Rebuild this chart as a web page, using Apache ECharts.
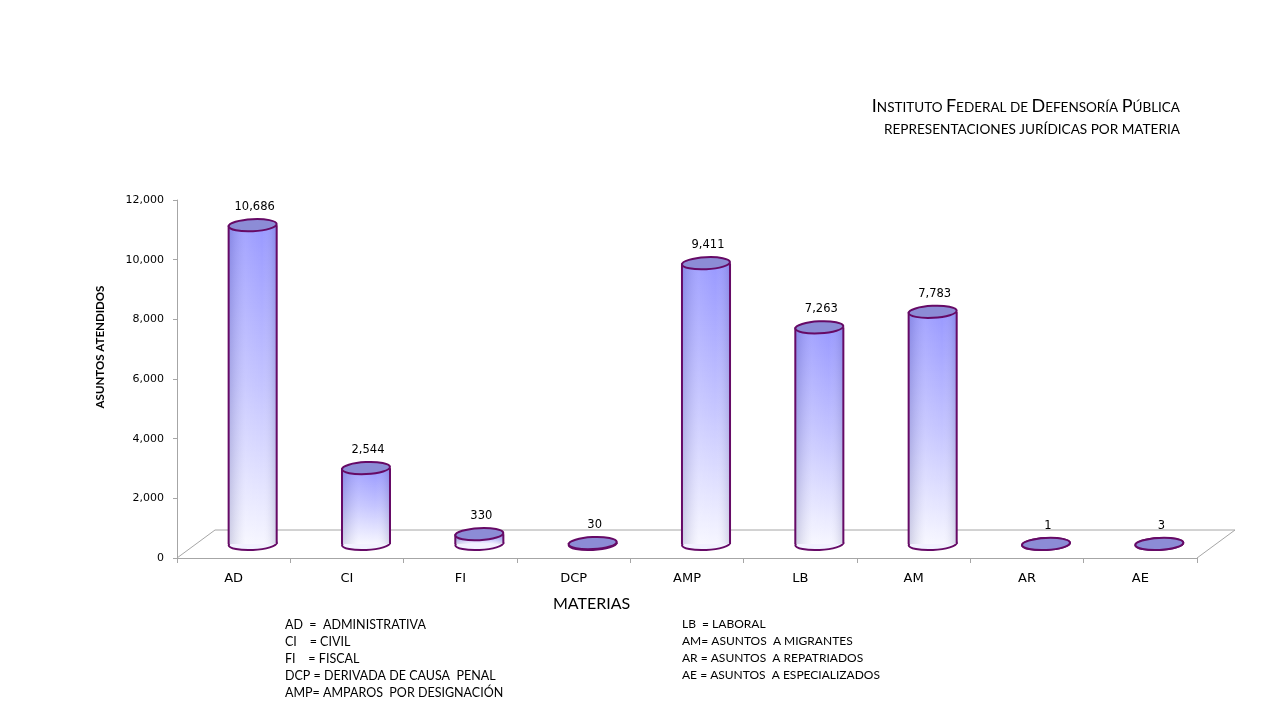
<!DOCTYPE html>
<html lang="es">
<head>
    <meta charset="UTF-8">
    <title>Representaciones jurídicas por materia</title>
    <script src="https://cdn.jsdelivr.net/npm/echarts@6.0.0/dist/echarts.min.js"></script>
    <style>
        html, body {
            margin: 0;
            padding: 0;
            background: #ffffff;
        }

        #chart {
            width: 1280px;
            height: 720px;
        }
    </style>
</head>
<body>
<div id="chart"></div>

<script type="text/javascript">
    // datos de la grafica
    var categories = ['AD', 'CI', 'FI', 'DCP', 'AMP', 'LB', 'AM', 'AR', 'AE'];
    var asuntos = [10686, 2544, 330, 30, 9411, 7263, 7783, 1, 3];
    var yMax = 12000;
    var yStep = 2000;

    // claves de las materias
    var legendLeft = [
        'AD  =  ADMINISTRATIVA',
        'CI    = CIVIL',
        'FI    = FISCAL',
        'DCP = DERIVADA DE CAUSA  PENAL',
        'AMP= AMPAROS  POR DESIGNACIÓN'
    ];
    var legendRight = [
        'LB  = LABORAL',
        'AM= ASUNTOS  A MIGRANTES',
        'AR = ASUNTOS  A REPATRIADOS',
        'AE = ASUNTOS  A ESPECIALIZADOS'
    ];

    // medidas del area de trazado (efecto 3D)
    var GL = 177, GR = 1197, GT = 200, GB = 558;
    var DX = 19, DY = -14;          // desplazamiento a media profundidad
    var PURPLE = '#660a66';

    function fmt(v) {
        return Number(v).toLocaleString('en-US');
    }

    // cilindro dibujado con las escalas del eje
    function renderCylinder(params, api) {
        var base = api.coord([api.value(0), 0]);
        var top = api.coord([api.value(0), api.value(1)]);
        var rx = api.size([1, 0])[0] * 0.212;
        var ry = 6;
        var cx = base[0] + DX;
        var yb = base[1] + DY;
        var yt = top[1] + DY;
        var h = Math.max(yb - yt, 0);
        var tilt = 0.05;

        return {
            type: 'group',
            children: [
                {
                    type: 'ellipse',
                    x: cx, y: yb, rotation: tilt,
                    shape: {cx: 0, cy: 0, rx: rx, ry: ry},
                    style: {fill: '#f2f2ff', stroke: PURPLE, lineWidth: 2}
                },
                {
                    type: 'rect',
                    shape: {x: cx - rx, y: yt, width: rx * 2, height: h},
                    style: {
                        fill: new echarts.graphic.LinearGradient(0, 0, 0, 1, [
                            {offset: 0, color: '#9999ff'},
                            {offset: 0.5, color: '#c4c4ff'},
                            {offset: 1, color: '#f6f6ff'}
                        ])
                    }
                },
                {
                    type: 'rect',
                    shape: {x: cx - rx, y: yt, width: rx * 2, height: h},
                    style: {
                        fill: new echarts.graphic.LinearGradient(0, 0, 1, 0, [
                            {offset: 0, color: 'rgba(60,60,130,0.22)'},
                            {offset: 0.35, color: 'rgba(255,255,255,0.10)'},
                            {offset: 0.7, color: 'rgba(255,255,255,0)'},
                            {offset: 1, color: 'rgba(60,60,130,0.20)'}
                        ])
                    }
                },
                {
                    type: 'line',
                    shape: {x1: cx - rx, y1: yt, x2: cx - rx, y2: yb},
                    style: {stroke: PURPLE, lineWidth: 2}
                },
                {
                    type: 'line',
                    shape: {x1: cx + rx, y1: yt, x2: cx + rx, y2: yb},
                    style: {stroke: PURPLE, lineWidth: 2}
                },
                {
                    type: 'ellipse',
                    x: cx, y: yt, rotation: tilt,
                    shape: {cx: 0, cy: 0, rx: rx, ry: ry},
                    style: {fill: '#8c8cd6', stroke: PURPLE, lineWidth: 2}
                },
                {
                    type: 'text',
                    style: {
                        text: fmt(api.value(1)),
                        x: cx + 2,
                        y: yt - 12,
                        align: 'center',
                        verticalAlign: 'bottom',
                        fill: '#000000',
                        font: '11.5px "DejaVu Sans"'
                    }
                }
            ]
        };
    }

    var chart = echarts.init(document.getElementById('chart'));

    var legendGraphics = [];
    legendLeft.forEach(function (t, i) {
        legendGraphics.push({
            type: 'text', left: 285, top: 618 + i * 17,
            style: {text: t, fill: '#000', font: '12.5px Lato'}
        });
    });
    legendRight.forEach(function (t, i) {
        legendGraphics.push({
            type: 'text', left: 682, top: 618 + i * 17,
            style: {text: t, fill: '#000', font: '12px Lato'}
        });
    });

    var option = {
        animation: false,
        backgroundColor: '#ffffff',
        title: [
            {
                right: 95,
                top: 92,
                text: '{b|I}{s|NSTITUTO }{b|F}{s|EDERAL DE }{b|D}{s|EFENSORÍA }{b|P}{s|ÚBLICA}',
                textStyle: {
                    fontWeight: 'normal',
                    rich: {
                        b: {fontFamily: 'Lato', fontSize: 18, fontWeight: 'normal', color: '#000'},
                        s: {fontFamily: 'Lato', fontSize: 13.5, fontWeight: 'normal', color: '#000', padding: [3, 0, 0, 0]}
                    }
                }
            },
            {
                right: 95,
                top: 118,
                text: 'REPRESENTACIONES JURÍDICAS POR MATERIA',
                textStyle: {fontFamily: 'Lato', fontSize: 13.6, fontWeight: 'normal', color: '#000'}
            }
        ],
        grid: {
            left: GL,
            right: 1280 - GR,
            top: GT,
            bottom: 720 - GB
        },
        xAxis: {
            type: 'category',
            data: categories,
            axisLine: {lineStyle: {color: '#a6a6a6', width: 1}},
            axisTick: {show: true, length: 5, lineStyle: {color: '#a6a6a6'}},
            axisLabel: {
                color: '#000',
                fontFamily: 'DejaVu Sans',
                fontSize: 13,
                margin: 14
            },
            splitLine: {show: false}
        },
        yAxis: {
            type: 'value',
            min: 0,
            max: yMax,
            interval: yStep,
            axisLine: {show: true, lineStyle: {color: '#a6a6a6'}},
            axisTick: {show: true, length: 4, lineStyle: {color: '#a6a6a6'}},
            axisLabel: {
                color: '#000',
                fontFamily: 'DejaVu Sans',
                fontSize: 11,
                margin: 13,
                formatter: fmt
            },
            splitLine: {show: false}
        },
        graphic: [
            {
                type: 'polyline',
                z: 0,
                shape: {
                    points: [[GL, GB], [GL + 2 * DX, GB + 2 * DY], [GR + 2 * DX, GB + 2 * DY], [GR, GB]]
                },
                style: {stroke: '#a6a6a6', lineWidth: 1, fill: null}
            },
            {
                type: 'text',
                x: 100,
                y: 347,
                rotation: Math.PI / 2,
                style: {
                    text: 'ASUNTOS ATENDIDOS',
                    fill: '#000',
                    font: 'bold 11.5px Lato',
                    align: 'center',
                    verticalAlign: 'middle'
                }
            },
            {
                type: 'text',
                left: 553,
                top: 596,
                style: {text: 'MATERIAS', fill: '#000', font: '16px Lato'}
            }
        ].concat(legendGraphics),
        series: [
            {
                type: 'custom',
                renderItem: renderCylinder,
                encode: {x: 0, y: 1},
                data: asuntos.map(function (v, i) {
                    return [i, v];
                }),
                z: 3
            }
        ]
    };

    chart.setOption(option);
</script>
</body>
</html>
